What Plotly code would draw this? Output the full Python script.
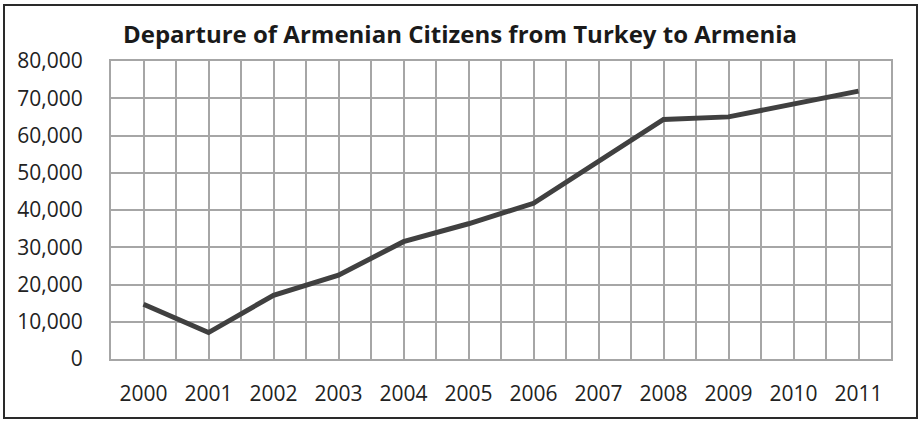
import plotly.graph_objects as go

years = ["2000", "2001", "2002", "2003", "2004", "2005", "2006", "2007", "2008", "2009", "2010", "2011"]
departures = [14700, 7100, 17100, 22500, 31500, 36300, 41800, 53000, 64300, 65000, 68500, 71900]
y_ticks = [0, 10000, 20000, 30000, 40000, 50000, 60000, 70000, 80000]

W, H = 920, 422
L, R, T, B = 111, 891, 61, 359
pw, ph = R - L, B - T

def px(xp):
    return (xp - L) / pw

def py(yp):
    return (B - yp) / ph

xs = list(range(len(years)))

fig = go.Figure()
fig.add_trace(go.Scatter(
    x=xs, y=departures, mode="lines",
    line=dict(color="#404040", width=5),
    showlegend=False, hoverinfo="skip", cliponaxis=False,
))

grid = "#a6a6a6"
FONT = "Open Sans, Noto Sans, sans-serif"
fig.update_layout(
    width=W, height=H,
    margin=dict(l=L, r=W - R, t=T, b=H - B, pad=0),
    paper_bgcolor="white", plot_bgcolor="white",
    font=dict(family=FONT, color="#222222", size=21),
    title=dict(
        text="<b>Departure of Armenian Citizens from Turkey to Armenia</b>",
        x=0.5, xref="container", xanchor="center",
        y=1 - 35 / H, yref="container", yanchor="middle",
        font=dict(size=24, color="#1a1a1a", family=FONT),
    ),
    xaxis=dict(
        range=[-0.5, len(years) - 0.5],
        tickmode="array", tickvals=xs, ticktext=years,
        showgrid=True, gridcolor=grid, gridwidth=2,
        minor=dict(tickmode="array", tickvals=[i - 0.5 for i in range(len(years) + 1)],
                   showgrid=True, gridcolor=grid, gridwidth=2),
        zeroline=False, showline=True, mirror=True, linecolor=grid, linewidth=2,
        ticks="",
        ticklabelstandoff=15,
        fixedrange=True,
    ),
    yaxis=dict(
        range=[0, 80000],
        tickmode="array", tickvals=y_ticks, tickformat=",",
        showgrid=True, gridcolor=grid, gridwidth=2,
        zeroline=False, showline=True, mirror=True, linecolor=grid, linewidth=2,
        ticks="",
        ticklabelstandoff=22,
        fixedrange=True,
    ),
    shapes=[dict(
        type="rect", xref="paper", yref="paper",
        x0=px(4), x1=px(917), y0=py(418), y1=py(5),
        line=dict(color="#2a2a2a", width=2), fillcolor="rgba(0,0,0,0)",
        layer="below",
    )],
)

fig.write_html("out.html", config={"displayModeBar": False},
               post_script="document.body.style.margin='0';document.body.style.padding='0';")
